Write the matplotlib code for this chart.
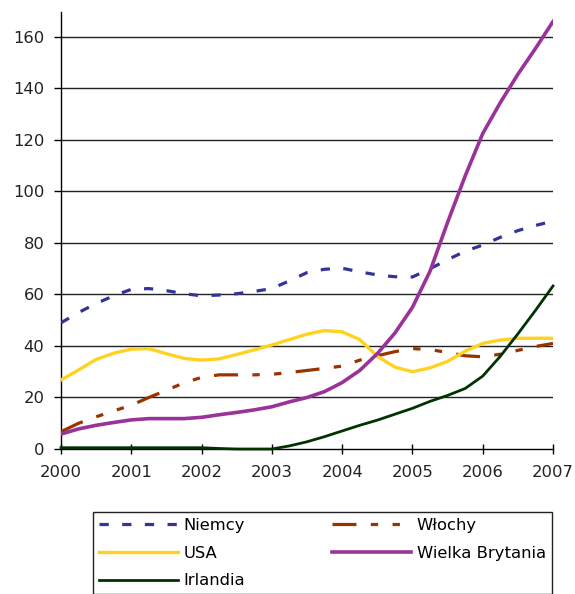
# %% import
import matplotlib
matplotlib.use('Agg')
import matplotlib.pyplot as plt

plt.rcParams['font.family'] = ['DejaVu Sans']

# %% data (quarterly points)
years = [2000.00, 2000.25, 2000.50, 2000.75, 2001.00, 2001.25, 2001.50, 2001.75,
         2002.00, 2002.25, 2002.50, 2002.75, 2003.00, 2003.25, 2003.50, 2003.75,
         2004.00, 2004.25, 2004.50, 2004.75, 2005.00, 2005.25, 2005.50, 2005.75,
         2006.00, 2006.25, 2006.50, 2006.75, 2007.00]

niemcy = [49.0, 53.0, 56.5, 59.5, 62.0, 62.3, 61.5, 60.3,
          59.5, 59.8, 60.3, 61.2, 62.3, 65.3, 68.5, 69.8,
          70.2, 68.8, 67.6, 66.9, 66.8, 70.0, 73.5, 76.8,
          79.2, 82.2, 84.8, 86.8, 88.5]

wlochy = [6.7, 10.0, 12.5, 14.8, 17.0, 20.0, 22.8, 25.7,
          27.8, 28.8, 28.8, 28.8, 29.0, 29.7, 30.5, 31.3,
          32.2, 34.5, 36.2, 37.8, 39.0, 38.6, 37.5, 36.2,
          35.8, 36.8, 38.3, 39.8, 41.0]

usa = [26.8, 30.7, 34.8, 37.2, 38.8, 39.0, 37.0, 35.2,
       34.5, 35.0, 36.7, 38.5, 40.4, 42.5, 44.6, 46.0,
       45.5, 42.5, 36.0, 31.8, 30.0, 31.5, 34.0, 38.0,
       41.0, 42.3, 43.0, 43.0, 43.0]

wielka_brytania = [5.8, 7.8, 9.2, 10.3, 11.3, 11.8, 11.8, 11.8,
                   12.3, 13.3, 14.2, 15.2, 16.4, 18.3, 20.0, 22.3,
                   25.8, 30.5, 37.0, 45.0, 55.0, 69.0, 88.0, 106.0,
                   122.5, 134.5, 145.5, 155.5, 166.0]

irlandia = [0.5, 0.5, 0.5, 0.5, 0.5, 0.5, 0.5, 0.5,
            0.5, 0.2, 0.0, 0.0, 0.0, 1.2, 2.8, 4.8,
            7.0, 9.2, 11.2, 13.5, 15.8, 18.5, 20.8, 23.5,
            28.3, 36.0, 44.7, 53.8, 63.3]

x_ticks = [2000, 2001, 2002, 2003, 2004, 2005, 2006, 2007]
y_ticks = [0, 20, 40, 60, 80, 100, 120, 140, 160]

# %% plot
W, H = 575, 594
fs = 11.8
fig = plt.figure(figsize=(W / 100, H / 100), dpi=100)
ax = fig.add_axes([61 / W, 1 - 449 / H, (553 - 61) / W, (449 - 12) / H])

for y in y_ticks[1:]:
    ax.axhline(y, color='#222222', lw=1.0, zorder=1)

l_de, = ax.plot(years, niemcy, color='#333399', lw=2.3, dashes=(2.9, 4.2),
                label='Niemcy', zorder=3)
l_it, = ax.plot(years, wlochy, color='#993300', lw=2.3,
                dashes=(7.5, 4.5, 2.3, 4.5, 2.3, 4.5), label='Włochy', zorder=3)
l_us, = ax.plot(years, usa, color='#FFD21F', lw=2.4, label='USA', zorder=3)
l_uk, = ax.plot(years, wielka_brytania, color='#993399', lw=2.6,
                label='Wielka Brytania', zorder=4)
l_ie, = ax.plot(years, irlandia, color='#003300', lw=2.0, label='Irlandia',
                zorder=4, clip_on=False)

ax.set_xlim(2000, 2007)
ax.set_ylim(0, 169.7)
ax.set_xticks(x_ticks)
ax.set_yticks(y_ticks)
ax.spines[['top', 'right']].set_visible(False)
for s in ['left', 'bottom']:
    ax.spines[s].set_color('black')
    ax.spines[s].set_linewidth(1.0)
ax.tick_params(axis='x', direction='inout', length=7, width=1, pad=8,
               labelsize=fs, labelcolor='#222222')
ax.tick_params(axis='y', direction='out', length=5, width=1, pad=7,
               labelsize=fs, labelcolor='#222222')

fig.legend(handles=[l_de, l_us, l_ie, l_it, l_uk], ncol=2,
           loc='upper left', bbox_to_anchor=(93 / W, 1 - 512 / H),
           fontsize=fs, frameon=True, fancybox=False, framealpha=1,
           edgecolor='#222222', handlelength=4.8, handletextpad=0.37,
           columnspacing=5.3, labelspacing=0.78, borderpad=0.36,
           borderaxespad=0)

fig.savefig('out.png', dpi=100)
